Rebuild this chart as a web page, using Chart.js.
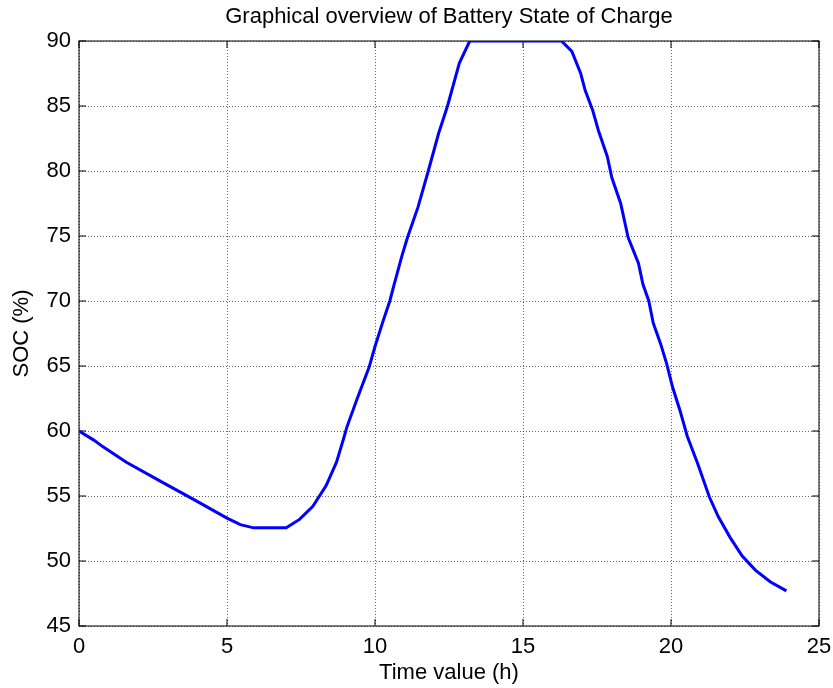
<!DOCTYPE html>
<html>
<head>
<meta charset="utf-8">
<script src="https://cdn.jsdelivr.net/npm/chart.js@4.4.0/dist/chart.umd.min.js"></script>
<style>
  html, body { margin: 0; padding: 0; background: #fff; }
  #wrap { width: 833px; height: 688px; }
</style>
</head>
<body>
<div id="wrap"><canvas id="soc_chart"></canvas></div>
<script>
// values
const time_h = [
  0, 0.5, 0.8, 1.6, 2.7, 3.9, 5.0, 5.45, 5.9, 7.0, 7.45, 7.9, 8.35, 8.7, 8.95,
  9.05, 9.4, 9.8, 10.0, 10.25, 10.5, 10.65, 10.9, 11.1, 11.45, 11.8, 12.15,
  12.45, 12.85, 13.2, 16.3, 16.65, 16.95, 17.1, 17.35, 17.55, 17.85, 18.0,
  18.3, 18.55, 18.9, 19.05, 19.25, 19.4, 19.65, 19.85, 20.05, 20.3, 20.55,
  20.9, 21.3, 21.6, 22.0, 22.4, 22.85, 23.35, 23.9,
];
const soc_pct = [
  60, 59.3, 58.8, 57.6, 56.2, 54.7, 53.3, 52.8, 52.55, 52.55, 53.2, 54.2, 55.8,
  57.6, 59.5, 60.3, 62.5, 64.9, 66.5, 68.3, 70, 71.3, 73.4, 74.9, 77.2, 80,
  82.9, 85, 88.3, 90, 90, 89.2, 87.5, 86.2, 84.7, 83.1, 81.1, 79.5, 77.5, 74.9,
  72.9, 71.3, 70, 68.3, 66.7, 65.2, 63.4, 61.6, 59.6, 57.5, 54.9, 53.4, 51.8,
  50.4, 49.3, 48.4, 47.7,
];
const x_ticks = [0, 5, 10, 15, 20, 25];
const y_ticks = [45, 50, 55, 60, 65, 70, 75, 80, 85, 90];
const chart_title = "Graphical overview of Battery State of Charge";

Chart.defaults.font.family = '"Liberation Sans", Arial, sans-serif';
Chart.defaults.font.size = 22;
Chart.defaults.color = "#000";

const ctx = document.getElementById("soc_chart").getContext("2d");

// black box with inward ticks, matlab style
const box_plugin = {
  id: "box",
  beforeDatasetsDraw(chart) {
    const { ctx, chartArea: a, scales } = chart;
    const len = 7;
    ctx.save();
    ctx.strokeStyle = "#000";
    ctx.lineWidth = 1;
    ctx.strokeRect(a.left, a.top, a.right - a.left, a.bottom - a.top);
    ctx.beginPath();
    x_ticks.forEach((v) => {
      const px = scales.x.getPixelForValue(v);
      ctx.moveTo(px, a.bottom);
      ctx.lineTo(px, a.bottom - len);
      ctx.moveTo(px, a.top);
      ctx.lineTo(px, a.top + len);
    });
    y_ticks.forEach((v) => {
      const py = scales.y.getPixelForValue(v);
      ctx.moveTo(a.left, py);
      ctx.lineTo(a.left + len, py);
      ctx.moveTo(a.right, py);
      ctx.lineTo(a.right - len, py);
    });
    ctx.stroke();
    ctx.restore();
  },
  // title centred over the axes, not the whole canvas
  afterDraw(chart) {
    const { ctx, chartArea: a } = chart;
    ctx.save();
    ctx.font = '22px "Liberation Sans", Arial, sans-serif';
    ctx.fillStyle = "#000";
    ctx.textAlign = "center";
    ctx.textBaseline = "middle";
    ctx.fillText(chart_title, (a.left + a.right) / 2, 17);
    ctx.restore();
  },
};

const grid_style = {
  color: "rgba(0,0,0,0.6)",
  lineWidth: 1,
  drawTicks: false,
};

new Chart(ctx, {
  type: "line",
  data: {
    datasets: [
      {
        label: "SOC",
        data: time_h.map((t, i) => ({ x: t, y: soc_pct[i] })),
        borderColor: "#0000ff",
        borderWidth: 3,
        pointRadius: 0,
        tension: 0,
        fill: false,
      },
    ],
  },
  options: {
    responsive: true,
    maintainAspectRatio: false,
    animation: false,
    layout: { padding: { left: 0, right: 14, top: 41, bottom: 0 } },
    plugins: {
      legend: { display: false },
      tooltip: { enabled: false },
      title: { display: false },
    },
    scales: {
      x: {
        type: "linear",
        min: x_ticks[0],
        max: x_ticks[x_ticks.length - 1],
        afterFit: (scale) => {
          scale.height = 62;
          scale.paddingLeft = 0;
          scale.paddingRight = 0;
        },
        grid: grid_style,
        border: { display: false, dash: [1, 2] },
        ticks: { stepSize: 5, padding: 8, maxRotation: 0, autoSkip: false },
        title: { display: true, text: "Time value (h)", padding: { top: 2, bottom: 2 } },
      },
      y: {
        min: y_ticks[0],
        max: y_ticks[y_ticks.length - 1],
        afterFit: (scale) => {
          scale.width = 79;
          scale.paddingTop = 0;
          scale.paddingBottom = 0;
        },
        grid: grid_style,
        border: { display: false, dash: [1, 2] },
        ticks: { stepSize: 5, padding: 8 },
        title: { display: true, text: "SOC (%)", padding: { top: 9, bottom: 4 } },
      },
    },
  },
  plugins: [box_plugin],
});
</script>
</body>
</html>
